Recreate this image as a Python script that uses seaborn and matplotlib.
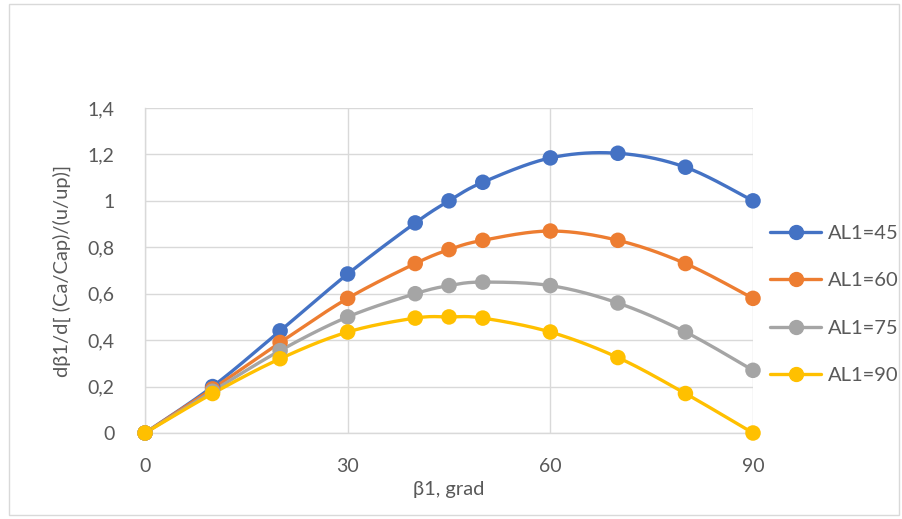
import numpy as np
import pandas as pd
import seaborn as sns
import matplotlib
matplotlib.use("Agg")
import matplotlib.pyplot as plt
from matplotlib.lines import Line2D
from matplotlib.patches import Rectangle
from matplotlib.ticker import FuncFormatter

beta = [0, 10, 20, 30, 40, 45, 50, 60, 70, 80, 90]
al45 = [0, 0.20, 0.44, 0.685, 0.905, 1.0, 1.08, 1.185, 1.205, 1.145, 1.0]
al60 = [0, 0.19, 0.39, 0.58, 0.73, 0.79, 0.83, 0.87, 0.83, 0.73, 0.58]
al75 = [0, 0.18, 0.355, 0.50, 0.60, 0.635, 0.65, 0.635, 0.56, 0.435, 0.27]
al90 = [0, 0.17, 0.32, 0.435, 0.495, 0.50, 0.495, 0.435, 0.325, 0.17, 0.0]
labels = ["AL1=45", "AL1=60", "AL1=75", "AL1=90"]
colors = ["#4472C4", "#ED7D31", "#A5A5A5", "#FFC000"]
series = [al45, al60, al75, al90]

sns.set_theme(style="white")
plt.rcParams["font.family"] = ["Lato", "DejaVu Sans"]

fig = plt.figure(figsize=(9.03, 5.19), dpi=100)
ax = fig.add_axes([145/903, 1-433/519, (753-145)/903, (433-108)/519])
fig.add_artist(Rectangle((9/903, 4/519), 890/903, 511/519, transform=fig.transFigure,
                         fill=False, edgecolor="#d9d9d9", lw=1))


def smooth(x, y, n=30):
    P = np.column_stack([x, y]).astype(float)
    m = len(P)
    out = []
    for i in range(m - 1):
        p0 = P[i - 1] if i > 0 else P[i]
        p1, p2 = P[i], P[i + 1]
        p3 = P[i + 2] if i + 2 < m else P[i + 1]
        c1 = p1 + (p2 - p0) / 6
        c2 = p2 - (p3 - p1) / 6
        t = np.linspace(0, 1, n)[:, None]
        seg = (1-t)**3*p1 + 3*(1-t)**2*t*c1 + 3*(1-t)*t**2*c2 + t**3*p2
        out.append(seg if i == 0 else seg[1:])
    s = np.vstack(out)
    return s[:, 0], s[:, 1]


rows = []
for lab, ys in zip(labels, series):
    for b, v in zip(beta, ys):
        rows.append({"beta": b, "val": v, "series": lab})
df = pd.DataFrame(rows)

for lab, ys, c in zip(labels, series, colors):
    sx, sy = smooth(beta, ys)
    ax.plot(sx, sy, color=c, lw=2.4, solid_capstyle="round", zorder=3)
sns.scatterplot(data=df, x="beta", y="val", hue="series", palette=colors,
                s=125, edgecolor="none", legend=False, ax=ax, zorder=4, clip_on=False)

ax.set_xlim(0, 90)
ax.set_ylim(0, 1.4)
ax.set_xticks([0, 30, 60, 90])
ax.set_yticks(np.arange(0, 1.41, 0.2))
ax.yaxis.set_major_formatter(FuncFormatter(lambda v, p: ("%g" % round(v, 1)).replace(".", ",")))
ax.grid(True, color="#d9d9d9", lw=1)
ax.set_axisbelow(True)
for s in ["top", "right"]:
    ax.spines[s].set_visible(False)
for s in ["left", "bottom"]:
    ax.spines[s].set_color("#d9d9d9")
    ax.spines[s].set_linewidth(1)
ax.tick_params(axis="both", length=0, labelsize=14, colors="#595959")
ax.tick_params(axis="y", pad=22)
ax.tick_params(axis="x", pad=18)
ax.set_xlabel("β1, grad", fontsize=14.5, color="#595959", labelpad=4)
ax.set_ylabel("dβ1/d[ (Ca/Cap)/(u/up)]", fontsize=14.5, color="#595959", labelpad=12)

handles = [Line2D([0], [0], color=c, lw=2.4, marker="o", markersize=10) for c in colors]
leg = fig.legend(handles, labels, loc="upper left", bbox_to_anchor=(770/903, 1-225/519),
                 frameon=False, fontsize=14.5, labelcolor="#595959", handlelength=2.55,
                 handletextpad=0.35, labelspacing=1.5, borderpad=0, borderaxespad=0)

fig.savefig("out.png", dpi=100)
